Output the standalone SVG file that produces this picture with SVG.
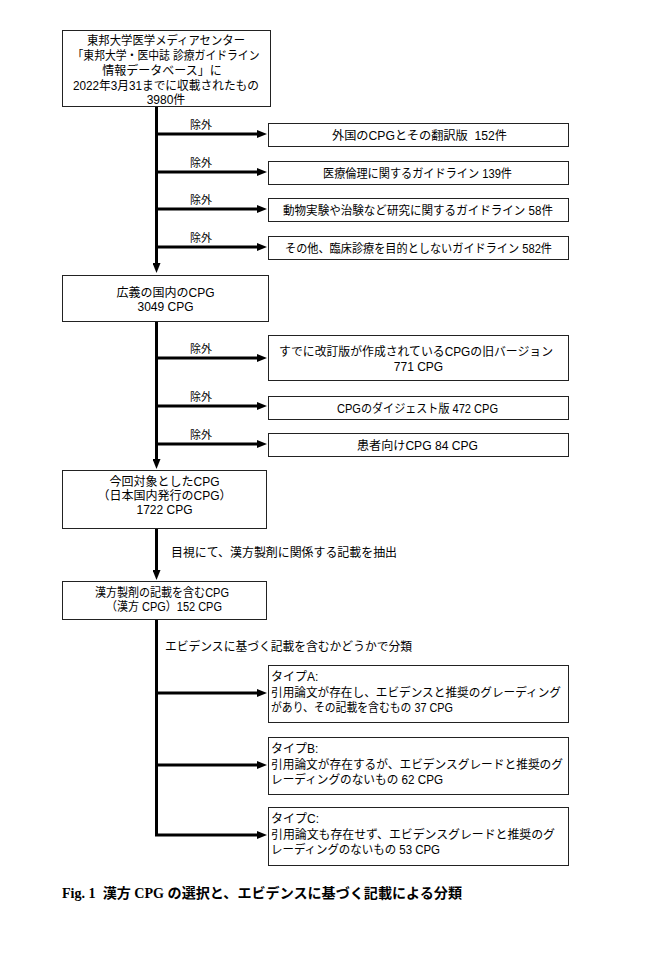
<svg xmlns="http://www.w3.org/2000/svg" width="656" height="966" viewBox="0 0 656 966">
<defs>
<marker id="ah" markerUnits="userSpaceOnUse" markerWidth="10" markerHeight="8" refX="2" refY="4" orient="auto">
<path d="M0,0 L10,4 L0,8 z" fill="#000"/>
</marker>
<style>
.box{fill:#fff;stroke:#222;stroke-width:1}
.t{font-family:"Liberation Sans","Noto Sans CJK JP",sans-serif;font-size:12px;fill:#000}
.c{text-anchor:middle}
.lbl{font-family:"Liberation Sans","Noto Sans CJK JP",sans-serif;font-size:11px;fill:#000}
.ln{fill:none;stroke:#000;stroke-width:3}
.cap{font-family:"Liberation Serif","Noto Sans CJK JP",serif;font-size:14px;font-weight:bold;fill:#000}
</style>
</defs>
<rect width="656" height="966" fill="#fff"/>

<g id="connectors">
<path class="ln" d="M156.5,107 V265" marker-end="url(#ah)"/>
<path class="ln" d="M156.5,134 H259" marker-end="url(#ah)"/>
<path class="ln" d="M156.5,172 H259" marker-end="url(#ah)"/>
<path class="ln" d="M156.5,209 H259" marker-end="url(#ah)"/>
<path class="ln" d="M156.5,247 H259" marker-end="url(#ah)"/>
<text class="lbl" x="190" y="129">除外</text>
<text class="lbl" x="190" y="167">除外</text>
<text class="lbl" x="190" y="204">除外</text>
<text class="lbl" x="190" y="242">除外</text>

<path class="ln" d="M156.5,322 V461" marker-end="url(#ah)"/>
<path class="ln" d="M156.5,358 H259" marker-end="url(#ah)"/>
<path class="ln" d="M156.5,406 H259" marker-end="url(#ah)"/>
<path class="ln" d="M156.5,444 H259" marker-end="url(#ah)"/>
<text class="lbl" x="190" y="353">除外</text>
<text class="lbl" x="190" y="401">除外</text>
<text class="lbl" x="190" y="439">除外</text>

<path class="ln" d="M156.5,528 V572" marker-end="url(#ah)"/>
<text class="t" x="171" y="557" textLength="226" lengthAdjust="spacingAndGlyphs">目視にて、漢方製剤に関係する記載を抽出</text>

<path class="ln" d="M156.5,620 V835 H259" marker-end="url(#ah)"/>
<path class="ln" d="M156.5,693 H259" marker-end="url(#ah)"/>
<path class="ln" d="M156.5,765 H259" marker-end="url(#ah)"/>
<text class="t" x="165" y="651" textLength="247" lengthAdjust="spacingAndGlyphs">エビデンスに基づく記載を含むかどうかで分類</text>
</g>

<g id="n-source">
<rect class="box" x="62.5" y="30.5" width="208" height="76"/>
<text class="t c" x="166" y="45" textLength="158" lengthAdjust="spacingAndGlyphs">東邦大学医学メディアセンター</text>
<text class="t c" x="166" y="60" textLength="187" lengthAdjust="spacingAndGlyphs">「東邦大学・医中誌 診療ガイドライン</text>
<text class="t c" x="162" y="75">情報データベース」に</text>
<text class="t c" x="166" y="90" textLength="186" lengthAdjust="spacingAndGlyphs">2022年3月31までに収載されたもの</text>
<text class="t c" x="166" y="104">3980件</text>
</g>

<g id="n-ex1">
<rect class="box" x="268.5" y="123.5" width="300" height="23"/>
<text class="t c" x="419.5" y="139.5" xml:space="preserve" textLength="175" lengthAdjust="spacingAndGlyphs">外国のCPGとその翻訳版  152件</text>
</g>
<g id="n-ex2">
<rect class="box" x="268.5" y="161.5" width="300" height="23"/>
<text class="t c" x="417.5" y="177.5" textLength="189" lengthAdjust="spacingAndGlyphs">医療倫理に関するガイドライン 139件</text>
</g>
<g id="n-ex3">
<rect class="box" x="268.5" y="198.5" width="300" height="23"/>
<text class="t c" x="418" y="214.5" textLength="270" lengthAdjust="spacingAndGlyphs">動物実験や治験など研究に関するガイドライン 58件</text>
</g>
<g id="n-ex4">
<rect class="box" x="268.5" y="236.5" width="300" height="23"/>
<text class="t c" x="418.5" y="252.5" textLength="267" lengthAdjust="spacingAndGlyphs">その他、臨床診療を目的としないガイドライン 582件</text>
</g>

<g id="n-broad">
<rect class="box" x="62.5" y="275.5" width="206" height="46"/>
<text class="t c" x="165.5" y="297">広義の国内のCPG</text>
<text class="t c" x="165.5" y="311">3049 CPG</text>
</g>

<g id="n-ex5">
<rect class="box" x="268.5" y="335.5" width="300" height="45"/>
<text class="t c" x="416" y="356" textLength="274" lengthAdjust="spacingAndGlyphs">すでに改訂版が作成されているCPGの旧バージョン</text>
<text class="t c" x="418.5" y="371">771 CPG</text>
</g>
<g id="n-ex6">
<rect class="box" x="268.5" y="396.5" width="300" height="23"/>
<text class="t c" x="417.5" y="412.5" textLength="161" lengthAdjust="spacingAndGlyphs">CPGのダイジェスト版 472 CPG</text>
</g>
<g id="n-ex7">
<rect class="box" x="268.5" y="433.5" width="300" height="23"/>
<text class="t c" x="417.5" y="449.5" textLength="121" lengthAdjust="spacingAndGlyphs">患者向けCPG 84 CPG</text>
</g>

<g id="n-target">
<rect class="box" x="62.5" y="470.5" width="204" height="58"/>
<text class="t c" x="164.5" y="486">今回対象としたCPG</text>
<text class="t c" x="164.5" y="500">（日本国内発行のCPG）</text>
<text class="t c" x="164.5" y="514">1722 CPG</text>
</g>

<g id="n-kampo">
<rect class="box" x="62.5" y="581.5" width="204" height="38"/>
<text class="t c" x="162" y="597" textLength="134" lengthAdjust="spacingAndGlyphs">漢方製剤の記載を含むCPG</text>
<text class="t c" x="164" y="611" textLength="116" lengthAdjust="spacingAndGlyphs">（漢方 CPG）152 CPG</text>
</g>

<g id="n-typeA">
<rect class="box" x="268.5" y="665.5" width="300" height="57"/>
<text class="t" x="271" y="681">タイプA:</text>
<text class="t" x="271" y="697" textLength="290" lengthAdjust="spacingAndGlyphs">引用論文が存在し、エビデンスと推奨のグレーディング</text>
<text class="t" x="271" y="712" textLength="182" lengthAdjust="spacingAndGlyphs">があり、その記載を含むもの 37 CPG</text>
</g>
<g id="n-typeB">
<rect class="box" x="268.5" y="737.5" width="300" height="57"/>
<text class="t" x="271" y="753">タイプB:</text>
<text class="t" x="271" y="769" textLength="292" lengthAdjust="spacingAndGlyphs">引用論文が存在するが、エビデンスグレードと推奨のグ</text>
<text class="t" x="271" y="784" textLength="172" lengthAdjust="spacingAndGlyphs">レーディングのないもの 62 CPG</text>
</g>
<g id="n-typeC">
<rect class="box" x="268.5" y="807.5" width="300" height="58"/>
<text class="t" x="271" y="823">タイプC:</text>
<text class="t" x="271" y="839" textLength="284" lengthAdjust="spacingAndGlyphs">引用論文も存在せず、エビデンスグレードと推奨のグ</text>
<text class="t" x="271" y="854" textLength="169" lengthAdjust="spacingAndGlyphs">レーディングのないもの 53 CPG</text>
</g>

<text class="cap" x="62" y="898" xml:space="preserve" textLength="400" lengthAdjust="spacingAndGlyphs">Fig. 1  漢方 CPG の選択と、エビデンスに基づく記載による分類</text>
</svg>
